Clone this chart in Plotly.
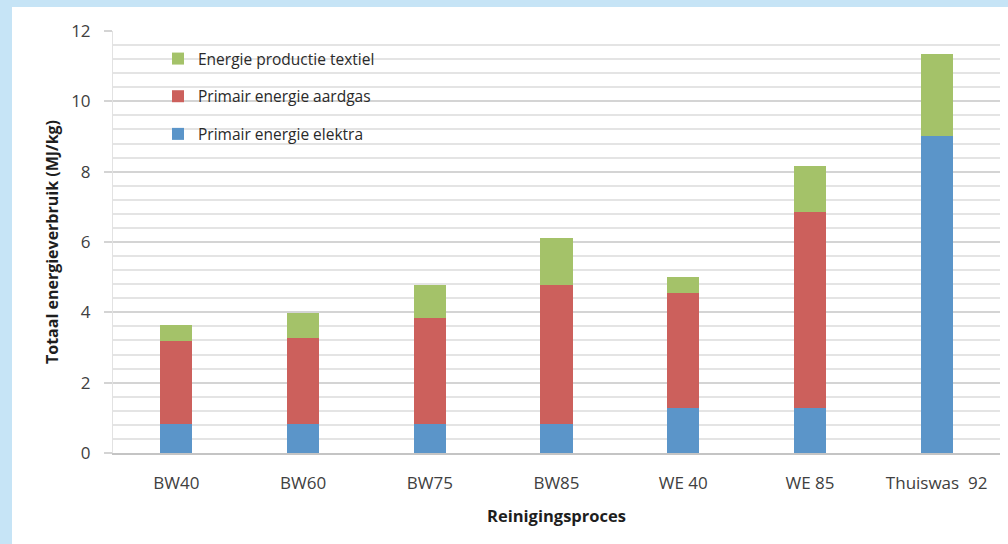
import plotly.graph_objects as go

# Cleaning processes and energy use per component (MJ/kg)
categories = ["BW40", "BW60", "BW75", "BW85", "WE 40", "WE 85", "Thuiswas  92"]
elektra = [0.82, 0.82, 0.82, 0.82, 1.27, 1.27, 9.01]
aardgas = [2.36, 2.44, 3.03, 3.97, 3.27, 5.57, 0.0]
textiel = [0.46, 0.71, 0.92, 1.33, 0.47, 1.31, 2.33]

# (name, values, colour, legend rank) — stacked bottom to top, listed top to bottom
series = [
    ("Primair energie elektra", elektra, "#5b95c9", 3),
    ("Primair energie aardgas", aardgas, "#cc605c", 2),
    ("Energie productie textiel", textiel, "#a4c269", 1),
]

FONT = "'Open Sans', sans-serif"

fig = go.Figure()
for name, vals, color, rank in series:
    fig.add_trace(go.Bar(
        x=categories, y=vals, name=name, legendgroup=name, legendrank=rank,
        marker=dict(color=color, line=dict(width=0)),
    ))

W, H = 1008, 544
L, R, T, B = 113, 8, 31, 91
pw, ph = W - L - R, H - T - B

fig.update_layout(
    width=W, height=H,
    margin=dict(l=L, r=R, t=T, b=B),
    barmode="stack",
    bargap=0.747,
    paper_bgcolor="#c6e4f6",
    plot_bgcolor="rgba(0,0,0,0)",
    font=dict(family=FONT, size=16, color="#404040"),
    legend=dict(
        x=(158 - L) / pw, y=1 - (42 - T) / ph, xanchor="left", yanchor="top",
        traceorder="grouped", tracegroupgap=14.5,
        bgcolor="rgba(0,0,0,0)",
        font=dict(family=FONT, size=15.5, color="#2a2a2a"),
        itemwidth=30,
    ),
    showlegend=True,
    shapes=[dict(
        type="rect", xref="paper", yref="paper", layer="below",
        x0=(12 - L) / pw, x1=1 + (R + 10) / pw,
        y0=-(B + 10) / ph, y1=1 + (T - 7) / ph,
        fillcolor="white", line=dict(width=0),
    )],
)

fig.update_xaxes(
    showgrid=False, showline=True, linecolor="#c4c4c4", linewidth=2,
    tickfont=dict(family=FONT, size=17, color="#404040"),
    ticklabelstandoff=14,
    title=dict(text="<b>Reinigingsproces</b>",
               font=dict(family=FONT, size=16.5, color="#1e1e1e"), standoff=17),
)
fig.update_yaxes(
    range=[0, 12], dtick=2, tick0=0,
    showgrid=True, gridcolor="#d4d4d4", gridwidth=2,
    zeroline=False, showline=True, linecolor="#e2e2e2", linewidth=1,
    ticks="outside", ticklen=8, tickcolor="#d4d4d4", tickwidth=2,
    ticklabelstandoff=10,
    tickfont=dict(family=FONT, size=17, color="#404040"),
    minor=dict(dtick=0.4, showgrid=True, gridcolor="#e4e4e4", gridwidth=1.5),
    title=dict(text="<b>Totaal energieverbruik (MJ/kg)</b>",
               font=dict(family=FONT, size=16, color="#1e1e1e"), standoff=8),
)

fig.write_html("out.html")
